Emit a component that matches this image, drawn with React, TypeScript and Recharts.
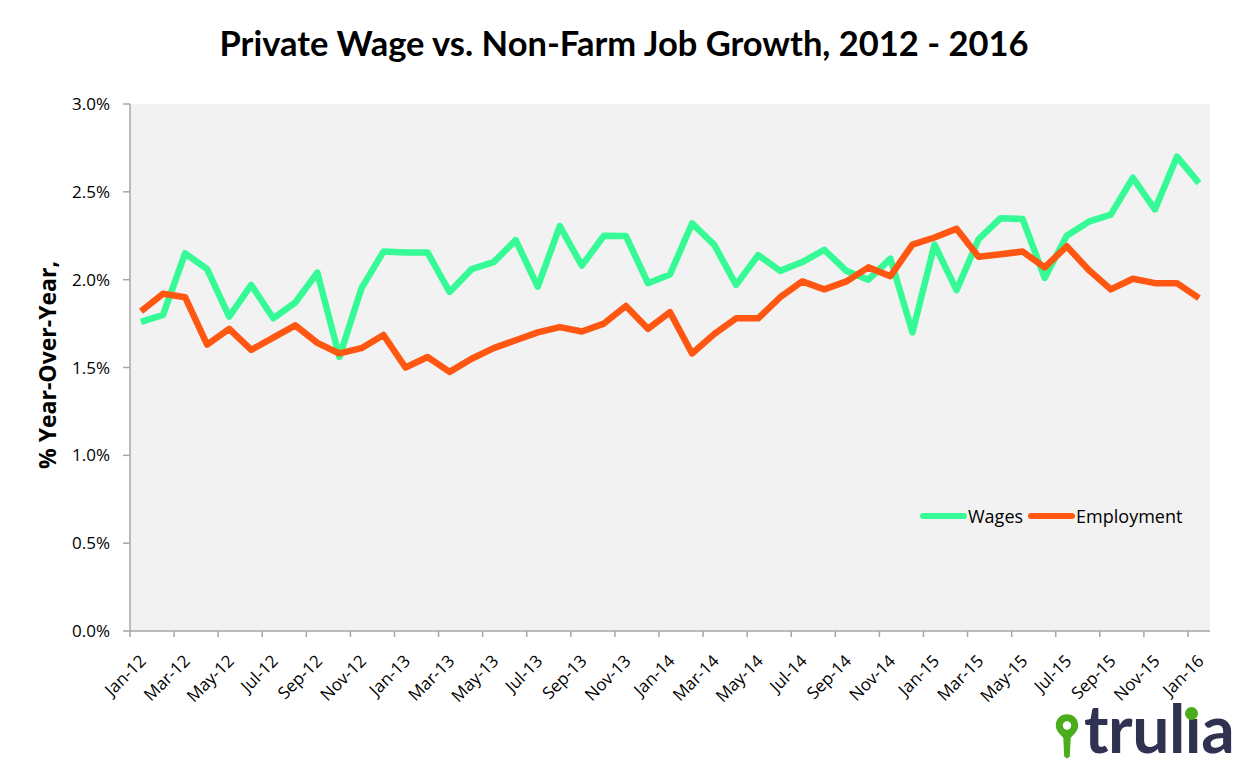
import React from 'react';
import {
  LineChart,
  Line,
  XAxis,
  YAxis,
  CartesianGrid,
} from 'recharts';

// values (% year-over-year)
const tickLabels = [
  'Jan-12', 'Mar-12', 'May-12', 'Jul-12', 'Sep-12', 'Nov-12',
  'Jan-13', 'Mar-13', 'May-13', 'Jul-13', 'Sep-13', 'Nov-13',
  'Jan-14', 'Mar-14', 'May-14', 'Jul-14', 'Sep-14', 'Nov-14',
  'Jan-15', 'Mar-15', 'May-15', 'Jul-15', 'Sep-15', 'Nov-15',
  'Jan-16',
];

const wages = [
  1.76, 1.8, 2.15, 2.06, 1.79, 1.97, 1.78, 1.87, 2.04, 1.56, 1.95, 2.16,
  2.155, 2.155, 1.93, 2.06, 2.1, 2.225, 1.96, 2.305, 2.08, 2.25, 2.248, 1.98,
  2.03, 2.32, 2.2, 1.97, 2.14, 2.05, 2.1, 2.17, 2.05, 2.0, 2.12, 1.7,
  2.2, 1.94, 2.23, 2.35, 2.345, 2.01, 2.25, 2.33, 2.37, 2.58, 2.4, 2.7,
  2.55,
];

const employment = [
  1.82, 1.92, 1.9, 1.63, 1.72, 1.6, 1.67, 1.74, 1.64, 1.58, 1.61, 1.685,
  1.5, 1.56, 1.475, 1.55, 1.61, 1.655, 1.7, 1.73, 1.705, 1.75, 1.85, 1.72,
  1.815, 1.58, 1.69, 1.78, 1.78, 1.9, 1.99, 1.945, 1.99, 2.07, 2.02, 2.2,
  2.24, 2.29, 2.13, 2.145, 2.16, 2.07, 2.19, 2.055, 1.945, 2.005, 1.98, 1.98,
  1.895,
];

const yTicks = [0, 0.5, 1, 1.5, 2, 2.5, 3];

const data = wages.map((w, i) => ({ idx: i, wages: w, employment: employment[i] }));
const labelTicks = tickLabels.map((_, i) => i * 2);

const W = 1248;
const H = 784;
const PLOT = { left: 130, right: 1210, top: 104, bottom: 631 };
const HALF_BAND = (PLOT.right - PLOT.left) / data.length / 2;

const GREEN = '#35FA96';
const ORANGE = '#FF5712';
const AXIS = '#a6a6a6';
const FONT = '"Open Sans", sans-serif';

const XTick = (props: any) => {
  const { x, payload } = props;
  const label = tickLabels[payload.value / 2];
  const bx = x - HALF_BAND;
  const ax = x + 6;
  const ay = PLOT.bottom + 31;
  return (
    <g>
      <line x1={bx} y1={PLOT.bottom} x2={bx} y2={PLOT.bottom + 6} stroke={AXIS} strokeWidth={1.5} />
      <text
        x={ax}
        y={ay}
        textAnchor="end"
        transform={`rotate(-45, ${ax}, ${ay})`}
        fontFamily={FONT}
        fontSize={17}
        fill="#000"
      >
        {label}
      </text>
    </g>
  );
};

const ChartLegend = () => {
  const items = [
    { name: 'Wages', color: GREEN },
    { name: 'Employment', color: ORANGE },
  ];
  return (
    <div
      style={{
        position: 'absolute',
        left: 919,
        top: 504,
        display: 'flex',
        alignItems: 'center',
        fontFamily: FONT,
        fontSize: 18,
        lineHeight: '24px',
      }}
    >
      {items.map((it) => (
        <div key={it.name} style={{ display: 'flex', alignItems: 'center', marginRight: 4 }}>
          <svg width={49} height={10}>
            <line x1={4} y1={5} x2={45} y2={5} stroke={it.color} strokeWidth={6} strokeLinecap="round" />
          </svg>
          <span>{it.name}</span>
        </div>
      ))}
    </div>
  );
};

const TruliaLogo = () => (
  <div style={{ position: 'absolute', left: 1053, top: 695, display: 'flex', alignItems: 'flex-end' }}>
    <svg width={28} height={56} viewBox="0 0 30 58">
      <path
        d="M15 9 C8 9 3 14 3 21 C3 27 8 31 11 34 L12 54 Q15 58 18 54 L19 34 C22 31 27 27 27 21 C27 14 22 9 15 9 Z"
        fill="#4aad1c"
      />
      <circle cx={15} cy={21} r={4.5} fill="#fff" />
    </svg>
    <div
      style={{
        position: 'relative',
        fontFamily: 'Lato, sans-serif',
        fontWeight: 700,
        fontSize: 66,
        lineHeight: '66px',
        color: '#2f3250',
        marginLeft: 3,
        letterSpacing: -0.5,
      }}
    >
      trul{'\u0131'}a
      <span
        style={{
          position: 'absolute',
          right: 36,
          top: 12,
          width: 13,
          height: 13,
          borderRadius: '50%',
          background: '#4aad1c',
        }}
      />
    </div>
  </div>
);

export default function App() {
  return (
    <div style={{ position: 'absolute', left: 0, top: 0, width: W, height: H, background: '#fff' }}>
      <div
        style={{
          position: 'absolute',
          left: 0,
          width: W,
          top: 22,
          textAlign: 'center',
          fontFamily: 'Lato, sans-serif',
          fontWeight: 700,
          fontSize: 34.5,
          color: '#000',
        }}
      >
        Private Wage vs. Non-Farm Job Growth, 2012 - 2016
      </div>
      <div
        style={{
          position: 'absolute',
          left: 47,
          top: 365,
          transform: 'translate(-50%, -50%) rotate(-90deg)',
          whiteSpace: 'nowrap',
          fontFamily: FONT,
          fontWeight: 700,
          fontSize: 23,
          color: '#000',
        }}
      >
        % Year-Over-Year,
      </div>
      <LineChart
        width={W}
        height={H}
        data={data}
        margin={{ top: PLOT.top, right: W - PLOT.right, bottom: 0, left: 0 }}
      >
        <CartesianGrid fill="#f2f2f2" horizontal={false} vertical={false} />
        <XAxis
          dataKey="idx"
          type="number"
          domain={[-0.5, data.length - 0.5]}
          ticks={labelTicks}
          interval={0}
          height={H - PLOT.bottom}
          tick={<XTick />}
          tickLine={false}
          axisLine={{ stroke: AXIS, strokeWidth: 1.5 }}
        />
        <YAxis
          type="number"
          domain={[0, 3]}
          ticks={yTicks}
          width={PLOT.left}
          tickSize={7}
          tickMargin={13}
          tickFormatter={(v: number) => `${v.toFixed(1)}%`}
          tick={{ fill: '#000', fontSize: 17, fontFamily: FONT }}
          tickLine={{ stroke: AXIS, strokeWidth: 1.5 }}
          axisLine={{ stroke: AXIS, strokeWidth: 1.5 }}
        />
        <Line
          dataKey="wages"
          name="Wages"
          stroke={GREEN}
          strokeWidth={6.5}
          dot={false}
          activeDot={false}
          strokeLinejoin="round"
          isAnimationActive={false}
        />
        <Line
          dataKey="employment"
          name="Employment"
          stroke={ORANGE}
          strokeWidth={6.5}
          dot={false}
          activeDot={false}
          strokeLinejoin="round"
          isAnimationActive={false}
        />
      </LineChart>
      <ChartLegend />
      <TruliaLogo />
    </div>
  );
}
